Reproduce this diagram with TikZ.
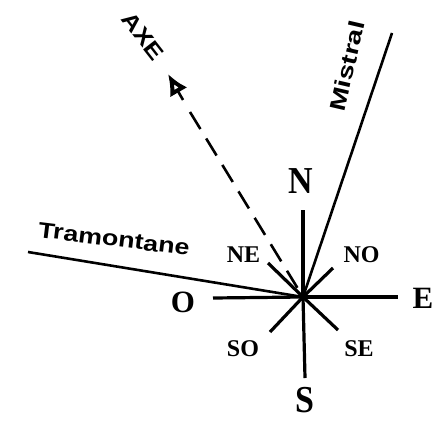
\documentclass[tikz,border=0pt]{standalone}
\usepackage{fontspec}
\setmainfont{Liberation Serif}
\newfontfamily\sansb{Liberation Sans}
\usetikzlibrary{arrows.meta,calc}
\begin{document}
\begin{tikzpicture}[x=1pt,y=-1pt,
  cline/.style={line width=3.2pt},
  wline/.style={line width=2.6pt},
  big/.style={font=\bfseries\fontsize{31}{31}\selectfont, inner sep=0pt},
  tall/.style={font=\bfseries\fontsize{34}{34}\selectfont, inner sep=0pt},
  small/.style={font=\bfseries\fontsize{24}{24}\selectfont, inner sep=0pt},
  wind/.style={font=\sansb\bfseries\fontsize{22}{22}\selectfont, inner sep=0pt}]
\useasboundingbox (0,0) rectangle (435,420);
\coordinate (c) at (303,297);
\coordinate (nend) at (303,210);
\coordinate (send) at (305,378);
\coordinate (eend) at (398,297);
\coordinate (oend) at (213,298);
\coordinate (neend) at (268,263);
\coordinate (noend) at (333,268);
\coordinate (soend) at (270,332);
\coordinate (seend) at (338,330);
\coordinate (tram) at (28,252);
\coordinate (mist) at (392,33);
\coordinate (axe) at (168,74);
\coordinate (axeb) at (190,112);
\draw[cline] (c) -- (nend);
\draw[cline] (c) -- (send);
\draw[cline] (c) -- (eend);
\draw[cline] (c) -- (oend);
\draw[cline] (c) -- (neend);
\draw[cline] (c) -- (noend);
\draw[cline] (c) -- (soend);
\draw[cline] (c) -- (seend);
\draw[wline] (c) -- (tram);
\draw[wline] (c) -- (mist);
\draw[wline, dash pattern=on 20pt off 11pt] (axeb) -- (c);
\draw[line width=2.6pt, -{Latex[open,length=21pt,width=20pt,line width=4pt]}] ($(axe)!30pt!(axeb)$) -- (axe);
\node[tall] (N) at (301,181) {\scalebox{1}[1.12]{N}};
\node[tall] (S) at (305,400) {\scalebox{1}[1.12]{S}};
\node[big] (E) at (423,298) {E};
\node[big] (O) at (183,302) {O};
\node[small] (NE) at (243.5,255) {NE};
\node[small] (NO) at (361.5,255) {NO};
\node[small] (SO) at (243,349) {SO};
\node[small] (SE) at (359,348.5) {SE};
\node[wind, rotate=-7] (T) at (114,239) {\scalebox{1.22}[1]{Tramontane}};
\node[wind, rotate=77] (M) at (347,66) {\scalebox{1.3}[1]{Mistral}};
\node[wind, rotate=-52] (A) at (143,36) {\scalebox{1.2}[1]{AXE}};
\end{tikzpicture}
\end{document}
